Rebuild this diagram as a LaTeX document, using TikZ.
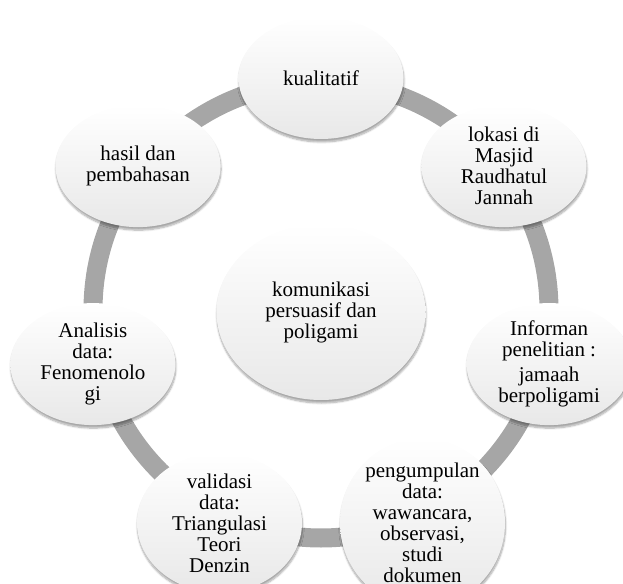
\documentclass[tikz,border=0pt]{standalone}
\usepackage{fontspec}
\setmainfont{Liberation Serif}
\usepackage{tikz}
\usetikzlibrary{shapes.geometric,shadows.blur}
\definecolor{ringgray}{RGB}{166,166,166}

\begin{document}
\begin{tikzpicture}[
  bubble/.style={ellipse, inner sep=0pt, align=center, minimum width=165pt, minimum height=122pt,
    top color=white, bottom color=black!9, font=\fontsize{21pt}{21pt}\selectfont,
    blur shadow={shadow xshift=0.5pt, shadow yshift=-3pt, shadow blur steps=8, shadow opacity=35}},
  hub/.style={bubble, minimum width=209pt, minimum height=176pt},
  ring/.style={draw=ringgray, line width=19pt}
]
\useasboundingbox (-321pt,-271pt) rectangle (302pt,312pt);
\draw[ring] (0,2pt) circle (228pt);
\node[hub] (center) at (0,0) {komunikasi\\persuasif dan\\poligami};
\node[bubble] (kualitatif) at (90:234pt) {kualitatif};
\node[bubble] (lokasi) at (38.57:234pt) {lokasi di\\Masjid\\Raudhatul\\Jannah};
\node[bubble] (informan) at (-12.86:234pt) {Informan\\penelitian :\\[4pt]jamaah\\berpoligami};
\node[bubble] (pengumpulan) at (-64.29:234pt) {pengumpulan\\data:\\wawancara,\\observasi,\\studi\\dokumen};
\node[bubble] (validasi) at (-115.71:234pt) {validasi\\data:\\Triangulasi\\Teori\\Denzin};
\node[bubble] (analisis) at (-167.14:234pt) {Analisis\\data:\\Fenomenolo\\gi};
\node[bubble] (hasil) at (141.43:234pt) {hasil dan\\pembahasan};
\end{tikzpicture}
\end{document}
